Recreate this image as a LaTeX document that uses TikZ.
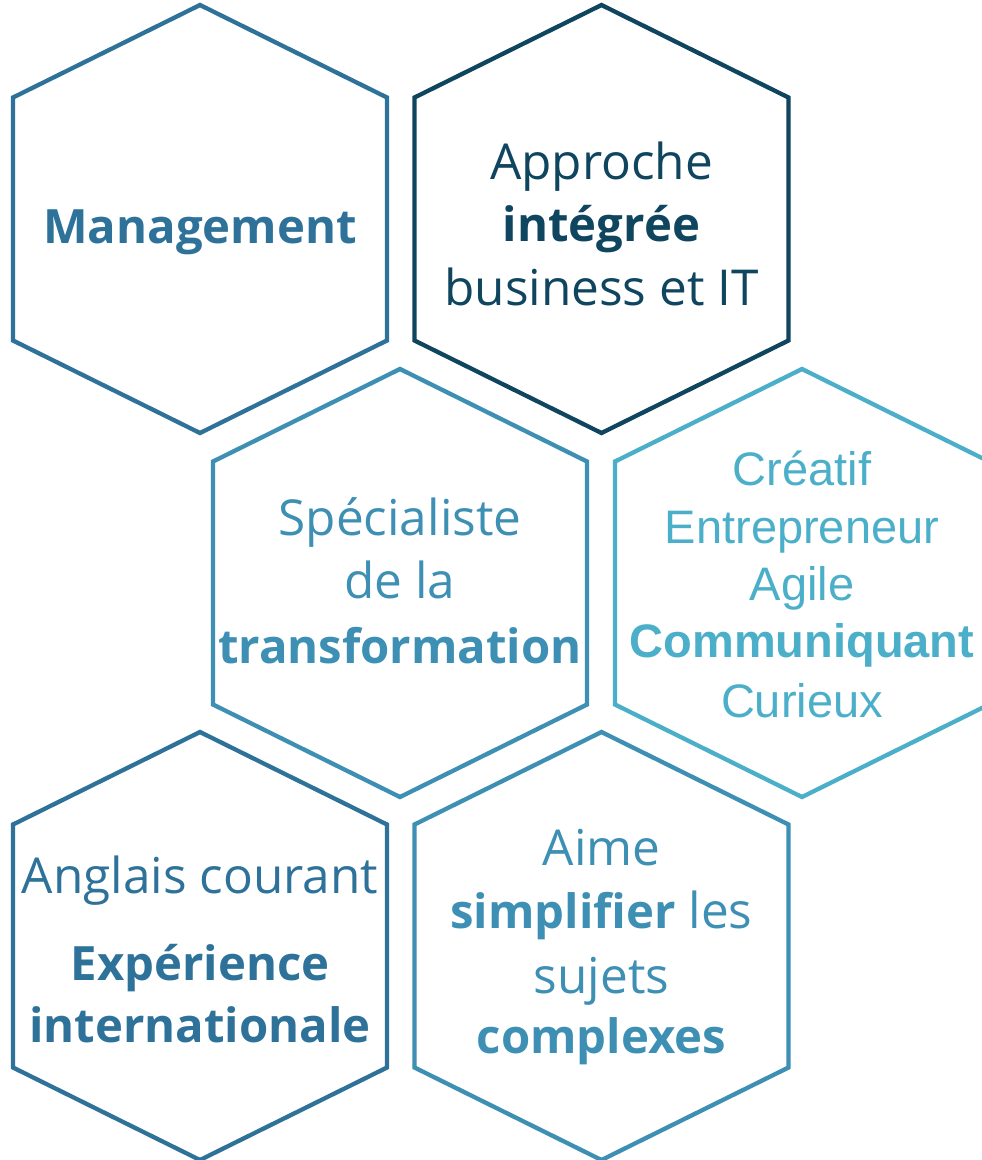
\documentclass[tikz,border=0pt]{standalone}
\usepackage{fontspec}
\setmainfont{Open Sans}
\newfontfamily\arialfont{Liberation Sans}
\definecolor{cA}{RGB}{46,114,154}
\definecolor{cB}{RGB}{16,69,95}
\definecolor{cC}{RGB}{61,143,179}
\definecolor{cD}{RGB}{76,175,201}
\newcommand\boldpart[1]{{\fontsize{47.3}{60}\selectfont\bfseries #1}}
\tikzset{
  hex/.pic={\draw (0,-214) -- (187,-121.5) -- (187,121.5) -- (0,214) -- (-187,121.5) -- (-187,-121.5) -- cycle;},
  hexline/.style={line width=4.3pt},
  txt/.style={inner sep=0pt, anchor=base, font=\fontsize{49.5}{60}\selectfont},
  txtb/.style={txt, font=\fontsize{47.3}{60}\selectfont\bfseries},
  atxt/.style={inner sep=0pt, anchor=base, font=\arialfont\fontsize{47}{56}\selectfont},
}
\begin{document}
\begin{tikzpicture}[x=1pt,y=-1pt]
\clip (0,0) rectangle (982,1160);
% hexagons
\pic[hexline, color=cA] (hA) at (200,219) {hex};
\pic[hexline, color=cB] (hB) at (601.5,219) {hex};
\pic[hexline, color=cC] (hC) at (400,583) {hex};
\pic[hexline, color=cD] (hD) at (802,583) {hex};
\pic[hexline, color=cA] (hE) at (200,946) {hex};
\pic[hexline, color=cC] (hF) at (601.5,946) {hex};
% texts
\node[txtb, text=cA] (tA1) at (200,243) {Management};
\node[txt, text=cB] (tB1) at (601.5,179) {Approche};
\node[txtb, text=cB] (tB2) at (601.5,241) {intégrée};
\node[txt, text=cB] (tB3) at (601.5,305) {business et IT};
\node[txt, text=cC] (tC1) at (400,535) {Spécialiste};
\node[txt, text=cC] (tC2) at (400,598) {de la};
\node[txtb, text=cC] (tC3) at (400,663) {transformation};
\node[atxt, text=cD] (tD1) at (802,485) {Créatif};
\node[atxt, text=cD] (tD2) at (802,543) {Entrepreneur};
\node[atxt, text=cD] (tD3) at (802,600) {Agile};
\node[atxt, text=cD, font=\arialfont\fontsize{47}{56}\selectfont\bfseries] (tD4) at (802,657) {Communiquant};
\node[atxt, text=cD] (tD5) at (802,717) {Curieux};
\node[txt, text=cA] (tE1) at (200,893) {Anglais courant};
\node[txtb, text=cA] (tE2) at (200,980) {Expérience};
\node[txtb, text=cA] (tE3) at (200,1042) {internationale};
\node[txt, text=cC] (tF1) at (601.5,865) {Aime};
\node[txt, text=cC] (tF2) at (601.5,928) {\boldpart{simplifier} les};
\node[txt, text=cC] (tF3) at (601.5,993) {sujets};
\node[txtb, text=cC] (tF4) at (601.5,1053) {complexes};
\end{tikzpicture}
\end{document}
